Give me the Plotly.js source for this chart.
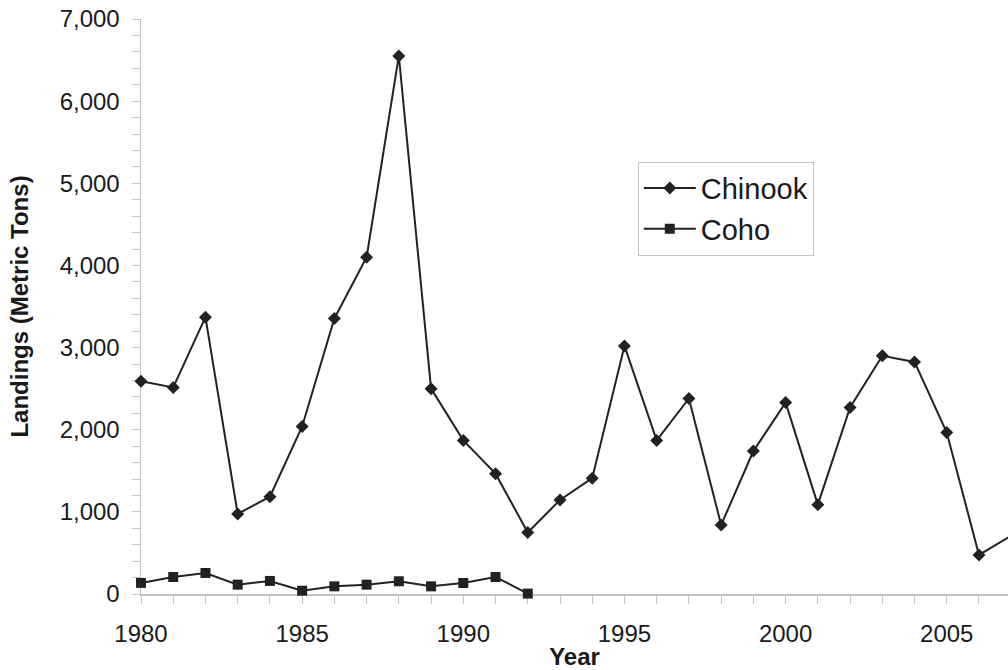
<!DOCTYPE html>
<html>
<head>
<meta charset="utf-8">
<script src="https://cdn.plot.ly/plotly-3.0.1.min.js"></script>
<style>html,body{margin:0;padding:0;background:#fff;}#chart{width:1008px;height:670px;}</style>
</head>
<body>
<div id="chart"></div>
<script>
const chinookYears = [1980,1981,1982,1983,1984,1985,1986,1987,1988,1989,1990,1991,1992,1993,1994,1995,1996,1997,1998,1999,2000,2001,2002,2003,2004,2005,2006,2007];
const chinookValues = [2590,2515,3370,975,1185,2040,3355,4100,6550,2500,1870,1465,748,1145,1410,3020,1870,2380,840,1740,2330,1088,2270,2900,2825,1965,475,710];
const cohoYears = [1980,1981,1982,1983,1984,1985,1986,1987,1988,1989,1990,1991,1992];
const cohoValues = [135,207,256,114,159,40,93,114,155,93,134,207,5];
const seriesNames = ["Chinook","Coho"];
const xTitle = "Year";
const yTitle = "Landings (Metric Tons)";

const ink = "#222222";
const axisGray = "#c4c4c4";
const fontFam = "'Liberation Sans', Arial, sans-serif";

const traces = [
  {x: chinookYears, y: chinookValues, name: seriesNames[0], type: "scatter", mode: "lines+markers", cliponaxis: false,
   line: {color: ink, width: 2}, marker: {symbol: "diamond", size: 10, color: ink}},
  {x: cohoYears, y: cohoValues, name: seriesNames[1], type: "scatter", mode: "lines+markers", cliponaxis: false,
   line: {color: ink, width: 2}, marker: {symbol: "square", size: 10, color: ink}}
];

const layout = {
  width: 1008, height: 670,
  margin: {l: 141, r: 0, t: 19, b: 75.5, pad: 0},
  paper_bgcolor: "#fff", plot_bgcolor: "#fff",
  font: {family: fontFam, color: "#1a1a1a", size: 24},
  separators: ".,",
  showlegend: true,
  legend: {x: 0.573, y: 0.752, xanchor: "left", yanchor: "top",
    bgcolor: "#fff", bordercolor: axisGray, borderwidth: 1, itemwidth: 52,
    font: {family: fontFam, size: 29, color: "#1a1a1a"}},
  xaxis: {
    range: [1980, 2006.9], dtick: 5, tick0: 1980, layer: "below traces",
    showgrid: false, zeroline: false, showline: true, linecolor: axisGray, linewidth: 1.5,
    ticks: "outside", ticklen: 8, tickcolor: axisGray, tickwidth: 1,
    ticklabelstandoff: 10,
    minor: {dtick: 1, ticks: "outside", ticklen: 8, tickcolor: axisGray, tickwidth: 1, showgrid: false},
    tickfont: {family: fontFam, size: 24, color: "#1a1a1a"},
    title: {text: xTitle, font: {family: fontFam, size: 24, color: "#1a1a1a", weight: "bold"}, standoff: 15}
  },
  yaxis: {
    range: [0, 7000], dtick: 1000, tick0: 0, tickformat: ",d", layer: "below traces",
    showgrid: false, zeroline: false, showline: true, linecolor: axisGray, linewidth: 1.5,
    ticks: "outside", ticklen: 8, tickcolor: axisGray, tickwidth: 1,
    ticklabelstandoff: 7,
    minor: {dtick: 200, ticks: "outside", ticklen: 8, tickcolor: axisGray, tickwidth: 1, showgrid: false},
    tickfont: {family: fontFam, size: 24, color: "#1a1a1a"},
    title: {text: yTitle, font: {family: fontFam, size: 24, color: "#1a1a1a", weight: "bold"}, standoff: 24}
  }
};

Plotly.newPlot("chart", traces, layout, {staticPlot: true, displayModeBar: false});
</script>
</body>
</html>
